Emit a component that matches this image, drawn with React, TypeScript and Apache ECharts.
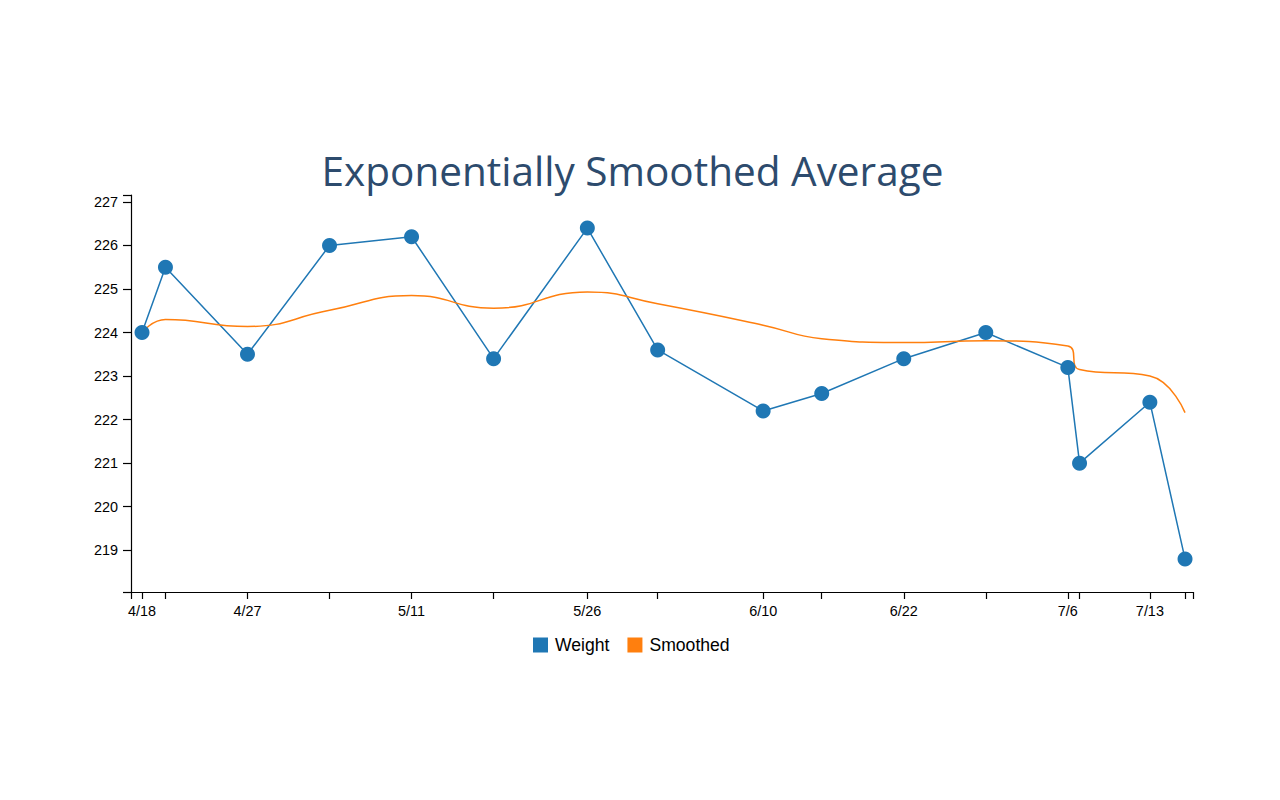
import React, { useEffect, useRef } from "react";
import * as echarts from "echarts";

// Dates of the weigh-ins (month is 1-based)
const dates: [number, number][] = [
  [4, 18], [4, 20], [4, 27], [5, 4], [5, 11], [5, 18], [5, 26], [6, 1],
  [6, 10], [6, 15], [6, 22], [6, 29], [7, 6], [7, 7], [7, 13], [7, 16],
];
const weight = [
  224.0, 225.5, 223.5, 226.0, 226.2, 223.4, 226.4, 223.6,
  222.2, 222.6, 223.4, 224.0, 223.2, 221.0, 222.4, 218.8,
];
const smoothed = [
  224.0, 224.3, 224.14, 224.51, 224.85, 224.56, 224.93, 224.66,
  224.17, 223.86, 223.77, 223.81, 223.69, 223.15, 223.0, 222.16,
];
const labeledDates: [number, number][] = [
  [4, 18], [4, 27], [5, 11], [5, 26], [6, 10], [6, 22], [7, 6], [7, 13],
];
const yTicks = [219, 220, 221, 222, 223, 224, 225, 226, 227];
const yMin = 218.04;
const yMax = 227.16;
const titleText = "Exponentially Smoothed Average";

const DAY = 86400000;
const ts = (m: number, d: number) => new Date(2019, m - 1, d).getTime();

export default function App() {
  const ref = useRef<HTMLDivElement>(null);
  useEffect(() => {
    document.body.style.margin = "0";
    if (!ref.current) return;
    const chart = echarts.init(ref.current, undefined, { renderer: "svg" });
    const times = dates.map(([m, d]) => ts(m, d));
    const xMin = times[0] - 0.94 * DAY;
    const xMax = times[times.length - 1] + 0.68 * DAY;
    const axisFont = { fontFamily: "Arial, 'Liberation Sans', sans-serif", fontSize: 14.4, color: "#000" };
    chart.setOption({
      animation: false,
      graphic: [
        {
          type: "text",
          x: 632.5,
          y: 150,
          style: {
            text: titleText,
            fontFamily: "'Open Sans', sans-serif",
            fontSize: 40.5,
            fill: "#2d4b6d",
            textAlign: "center",
            textVerticalAlign: "top",
          },
        },
      ],
      legend: {
        left: 528,
        top: 631,
        icon: "rect",
        itemWidth: 15,
        itemHeight: 15,
        itemGap: 18,
        textStyle: { fontFamily: "Arial, 'Liberation Sans', sans-serif", fontSize: 17.6, color: "#000", padding: [0, 0, 0, 2] },
        data: ["Weight", "Smoothed"],
      },
      grid: { left: 131, right: 87, top: 195, bottom: 208, containLabel: false },
      xAxis: {
        type: "value",
        min: xMin,
        max: xMax,
        splitLine: { show: false },
        axisLine: { show: true, onZero: false, lineStyle: { color: "#000", width: 1.2 } },
        axisTick: {
          show: true,
          length: 7,
          lineStyle: { color: "#000", width: 1.2 },
          customValues: [xMin, ...times, xMax],
        },
        axisLabel: {
          ...axisFont,
          margin: 12,
          customValues: labeledDates.map(([m, d]) => ts(m, d)),
          formatter: (v: number) => {
            const dt = new Date(v);
            return `${dt.getMonth() + 1}/${dt.getDate()}`;
          },
        },
      },
      yAxis: {
        type: "value",
        min: yMin,
        max: yMax,
        splitLine: { show: false },
        axisLine: { show: true, onZero: false, lineStyle: { color: "#000", width: 1.2 } },
        axisTick: {
          show: true,
          length: 8,
          lineStyle: { color: "#000", width: 1.2 },
          customValues: [yMin, ...yTicks, yMax],
        },
        axisLabel: {
          ...axisFont,
          margin: 13,
          customValues: yTicks,
        },
      },
      series: [
        {
          name: "Weight",
          type: "line",
          data: times.map((t, i) => [t, weight[i]]),
          color: "#1f77b4",
          lineStyle: { width: 1.5, color: "#1f77b4" },
          symbol: "circle",
          symbolSize: 15,
          showSymbol: true,
          itemStyle: { color: "#1f77b4" },
        },
        {
          name: "Smoothed",
          type: "line",
          data: times.map((t, i) => [t, smoothed[i]]),
          color: "#ff7f0e",
          smooth: 0.5,
          showSymbol: false,
          symbol: "none",
          lineStyle: { width: 1.5, color: "#ff7f0e" },
          itemStyle: { color: "#ff7f0e" },
        },
      ],
    });
    return () => chart.dispose();
  }, []);
  return <div ref={ref} style={{ width: 1280, height: 800 }} />;
}
